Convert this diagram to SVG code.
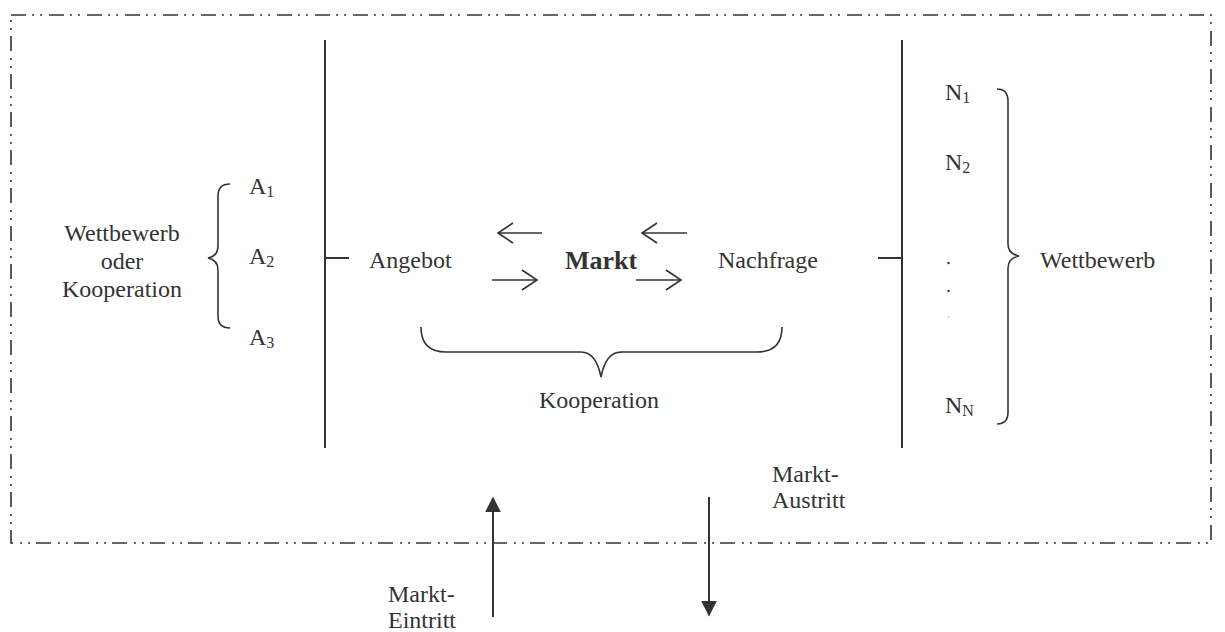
<svg xmlns="http://www.w3.org/2000/svg" width="1225" height="632" viewBox="0 0 1225 632">
  <style>
    text { font-family: "Liberation Serif", Tinos, "Times New Roman", "DejaVu Serif", serif; font-size: 24px; fill: #333; }
    .b { font-weight: bold; font-size: 26px; }
    .sub { font-size: 16px; }
    .ln { stroke: #333; stroke-width: 2; fill: none; }
    .thin { stroke: #333; stroke-width: 1.6; fill: none; }
    .frame { stroke: #333; stroke-width: 1.6; fill: none; stroke-dasharray: 15 6 2 6 2 7; }
  </style>
  <defs>
    <marker id="solid" viewBox="0 0 10 10" refX="9" refY="5" markerWidth="16" markerHeight="16" markerUnits="userSpaceOnUse" orient="auto">
      <path d="M0,0 L10,5 L0,10 Z" fill="#333"/>
    </marker>
  </defs>

  <!-- market boundary -->
  <rect id="boundary" class="frame" x="11" y="15" width="1200" height="528"/>

  <!-- supply side -->
  <g id="supply">
    <line class="ln" x1="325" y1="40" x2="325" y2="448"/>
    <line class="ln" x1="325" y1="258" x2="349" y2="258"/>
    <text x="369" y="268">Angebot</text>
  </g>

  <!-- demand side -->
  <g id="demand">
    <line class="ln" x1="902" y1="40" x2="902" y2="448"/>
    <line class="ln" x1="878" y1="258" x2="902" y2="258"/>
    <text x="718" y="268">Nachfrage</text>
  </g>

  <!-- market centre -->
  <g id="market">
    <text class="b" x="565" y="269">Markt</text>
  </g>

  <!-- suppliers -->
  <g id="suppliers">
    <path class="thin" d="M230,184 Q218,184 218,196 L218,246 Q218,256 208,258 Q218,260 218,270 L218,316 Q218,328 230,328"/>
    <text x="249" y="194">A<tspan class="sub" dy="3">1</tspan></text>
    <text x="249" y="264">A<tspan class="sub" dy="3">2</tspan></text>
    <text x="249" y="345">A<tspan class="sub" dy="3">3</tspan></text>
    <text x="122" y="241" text-anchor="middle">Wettbewerb</text>
    <text x="122" y="269" text-anchor="middle">oder</text>
    <text x="122" y="297" text-anchor="middle">Kooperation</text>
  </g>

  <!-- buyers -->
  <g id="buyers">
    <path class="thin" d="M997,89 Q1008,89 1008,101 L1008,244 Q1008,254 1019,256 Q1008,258 1008,268 L1008,412 Q1008,424 997,424"/>
    <text x="945" y="100">N<tspan class="sub" dy="3">1</tspan></text>
    <text x="945" y="170">N<tspan class="sub" dy="3">2</tspan></text>
    <circle cx="948.5" cy="263" r="1.2" fill="#333"/>
    <circle cx="948.5" cy="291" r="1.2" fill="#333"/>
    <circle cx="948.5" cy="317" r="0.6" fill="#777"/>
    <text x="945" y="413">N<tspan class="sub" dy="3">N</tspan></text>
    <text x="1040" y="268">Wettbewerb</text>
  </g>

  <!-- cooperation between both sides -->
  <g id="cooperation">
    <path class="thin" d="M421,327 Q421,352 446,352 L581,352 Q596,352 601,377 Q606,352 621,352 L757,352 Q782,352 782,327"/>
    <text x="599" y="408" text-anchor="middle">Kooperation</text>
  </g>

  <!-- entry and exit labels -->
  <g id="entry">
    <text x="388" y="602">Markt-</text>
    <text x="388" y="628">Eintritt</text>
  </g>
  <g id="exit">
    <text x="772" y="482">Markt-</text>
    <text x="772" y="508">Austritt</text>
  </g>

  <!-- flows -->
  <g id="connectors">
    <g class="thin">
      <line x1="542" y1="233" x2="498" y2="233"/>
      <polyline points="513,223 498,233 513,243"/>
      <line x1="687" y1="233" x2="642" y2="233"/>
      <polyline points="657,223 642,233 657,243"/>
      <line x1="492" y1="280" x2="537" y2="280"/>
      <polyline points="522,270 537,280 522,290"/>
      <line x1="636" y1="280" x2="681" y2="280"/>
      <polyline points="666,270 681,280 666,290"/>
    </g>
    <line class="ln" x1="493" y1="617" x2="493" y2="498" marker-end="url(#solid)"/>
    <line class="ln" x1="709" y1="497" x2="709" y2="615" marker-end="url(#solid)"/>
  </g>
</svg>
